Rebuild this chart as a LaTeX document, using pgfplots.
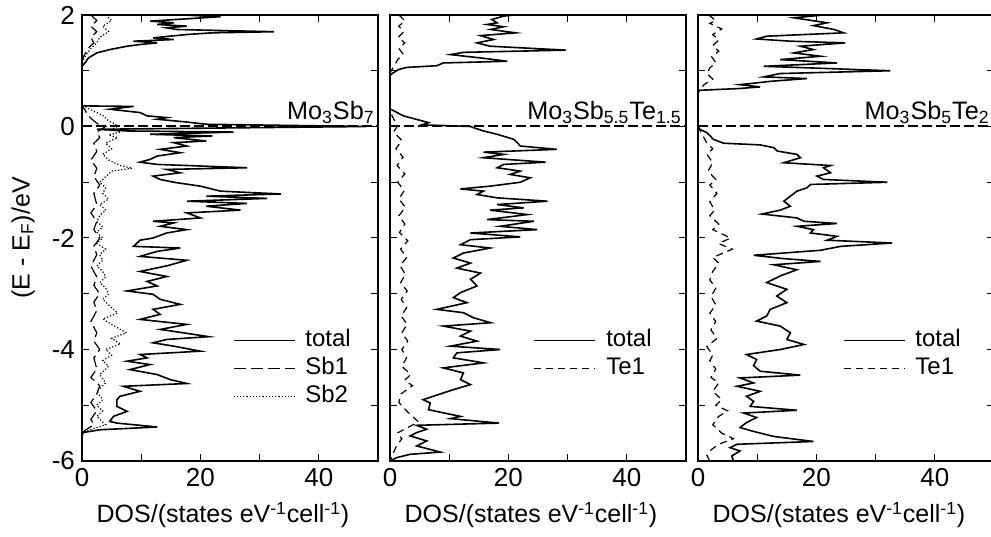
\documentclass[border=0pt]{standalone}
\usepackage{fontspec}
\setmainfont{Liberation Sans}
\usepackage{pgfplots}
\pgfplotsset{compat=1.18}
\pgfplotsset{
 dospanel/.style={
  scale only axis, width=148pt, height=223pt,
  xmin=0, xmax=50, ymin=-6, ymax=2,
  xtick={0,20,40}, xticklabels={0,20,40},
  minor xtick={10,30},
  ytick={-6,-4,-2,0,2},
  minor ytick={-5,-3,-1,1},
  tick align=inside,
  major tick length=3.5pt, minor tick length=3.5pt,
  tick style={black, line width=0.5pt},
  axis line style={line width=1pt},
  tick label style={font=\fontsize{13}{15}\selectfont},
  xlabel={DOS/(states eV\textsuperscript{-1}cell\textsuperscript{-1})},
  every axis x label/.style={at={(axis description cs:0.5,-0.139)}, anchor=base, xshift=-3.5pt, font=\fontsize{12.5}{15}\selectfont},
  legend style={draw=none, fill=none, anchor=north west, inner sep=0pt, font=\fontsize{12}{14}\selectfont,
     nodes={inner sep=0.5pt, text height=9pt, text depth=3pt}, row sep=1pt, column sep=4.5pt},
  legend cell align=left,
  legend image code/.code={\draw[#1] (0pt,0pt) -- (30.5pt,0pt);},
 },
 tot/.style={black, line width=0.8pt},
 fermi/.style={black, line width=1pt, dash pattern=on 5pt off 2pt},
}
\begin{document}
\begin{tikzpicture}
% ---------------- Panel 1 ----------------
\begin{axis}[dospanel, at={(41pt,37.5pt)}, anchor=south west,
  yticklabels={-6,-4,-2,0,2},
  ylabel={(E - E\textsubscript{F})/eV},
  every axis y label/.style={at={(axis description cs:-0.199,0.5)}, rotate=90, anchor=center, font=\fontsize{12.5}{15}\selectfont},
  legend style={at={(axis cs:25.4,-3.6)}}]
\addplot[tot] coordinates {
(17,2.00) (23.4,1.97) (11.5,1.89) (15.5,1.86) (12.7,1.83) (17.7,1.80) (14.3,1.77) (16,1.74)
(32.4,1.70) (22,1.68) (17.7,1.65) (12,1.59) (15.5,1.56) (8.7,1.53) (12.7,1.50) (9.8,1.47)
(7.6,1.44) (4.7,1.38) (2.5,1.32) (1.1,1.23) (0.5,1.14) (0,1.08) (0,0.37)
(8.7,0.36) (4.7,0.31) (9.8,0.25) (11,0.19) (14.3,0.16) (12.7,0.13) (17.7,0.08) (21,0.04)
(48,0.0) (2.5,-0.05) (7.6,-0.08) (25.6,-0.10) (11.5,-0.14) (22,-0.17) (15.5,-0.20) (21,-0.26)
(15.5,-0.29) (17.7,-0.35) (13.2,-0.41) (16.6,-0.47) (12.7,-0.53) (11.5,-0.59) (9.8,-0.64)
(12.7,-0.68) (27.9,-0.74) (14.3,-0.77) (16.6,-0.83) (12,-0.89) (13.2,-0.95) (15.5,-1.00)
(20,-1.07) (23.4,-1.16) (33.6,-1.21) (21,-1.25) (31.3,-1.29) (17.7,-1.34) (27.9,-1.38)
(21,-1.43) (26.8,-1.50) (17.7,-1.55) (20,-1.64) (12,-1.70) (15.5,-1.73) (13.2,-1.79)
(17.7,-1.85) (14.3,-1.91) (12,-2.00) (9.8,-2.04) (8.7,-2.15) (16.6,-2.18) (12.7,-2.24)
(9.8,-2.33) (17.7,-2.40) (14.3,-2.50) (9.8,-2.60) (14.3,-2.69) (11,-2.78) (12.7,-2.86)
(7.6,-2.95) (12,-3.01) (13.2,-3.10) (16.6,-3.19) (12,-3.28) (13.2,-3.37) (9.8,-3.46)
(17.7,-3.55) (13.2,-3.64) (17.7,-3.71) (21.4,-3.77) (14.3,-3.82) (12,-3.88) (15.5,-3.94)
(20,-4.03) (9.8,-4.09) (11,-4.15) (7.6,-4.21) (11.5,-4.27) (8.1,-4.36) (12.7,-4.45)
(14.9,-4.54) (17.7,-4.61) (7,-4.66) (9.8,-4.75) (6.4,-4.84) (5.9,-4.90) (5.9,-5.02)
(7.6,-5.11) (5.3,-5.20) (4.7,-5.29) (5.9,-5.32) (12.7,-5.39) (3,-5.44) (0.2,-5.49)
(0,-5.55) (0,-6)};
\addplot[black, line width=0.6pt, dash pattern=on 6pt off 2.5pt] coordinates {
(1.5,2.0) (2.5,1.9) (1.5,1.8) (2.5,1.7) (1.5,1.6) (2,1.5) (1,1.4) (0.5,1.3) (0,1.2) (0,0.37)
(0.5,0.3) (1,0.2) (2,0.1) (3,0.02) (4,0) (2.5,-0.1) (3,-0.2) (2,-0.3) (2.5,-0.45) (1.5,-0.6)
(2.5,-0.75) (2,-0.9) (3,-1.05) (2,-1.2) (2.5,-1.4) (1.5,-1.55) (2.5,-1.7) (2,-1.85) (3,-2.0)
(2,-2.15) (2.5,-2.3) (1.5,-2.5) (2.5,-2.7) (2,-2.85) (3,-3.0) (2,-3.15) (2.5,-3.3) (1.5,-3.5)
(2.5,-3.7) (2,-3.85) (3,-4.0) (2,-4.15) (2.5,-4.35) (1.5,-4.5) (3,-4.65) (2.5,-4.8) (1.5,-4.95)
(2.5,-5.1) (1.5,-5.25) (2,-5.35) (0.5,-5.45) (0,-5.5) (0,-6)};
\addplot[black, line width=0.6pt, dash pattern=on 0.6pt off 1pt] coordinates {
(4,2.0) (5,1.9) (3.5,1.8) (4.5,1.7) (3,1.6) (2.5,1.5) (1.5,1.4) (0.8,1.3) (0.2,1.2) (0,1.1)
(0,0.37) (0.5,0.36) (1.5,0.3) (2.5,0.25) (3.5,0.2) (4.5,0.1) (5.5,0.05) (6,0) (5,-0.05)
(6.5,-0.1) (4.5,-0.15) (6,-0.2) (4,-0.3) (5,-0.4) (3.5,-0.5) (4.5,-0.6) (6.5,-0.7) (8.5,-0.75)
(5,-0.8) (4,-0.9) (3,-1.0) (4,-1.1) (3.5,-1.2) (4.5,-1.3) (3,-1.4) (4,-1.5) (3,-1.6) (2.5,-1.7)
(3.5,-1.8) (2.5,-1.9) (3.5,-2.0) (2.5,-2.1) (4,-2.2) (3,-2.3) (3.5,-2.4) (2.5,-2.5) (3.5,-2.6)
(4,-2.7) (3,-2.8) (4,-2.9) (4.5,-3.0) (3.5,-3.1) (4.5,-3.2) (6,-3.35) (3.5,-3.45) (5,-3.55)
(7.5,-3.7) (5,-3.8) (6.5,-3.9) (4,-4.0) (5,-4.1) (3.5,-4.2) (4.5,-4.3) (3,-4.45) (4,-4.6)
(2.5,-4.75) (3.5,-4.9) (2.5,-5.0) (3.5,-5.1) (2.5,-5.2) (4,-5.35) (1,-5.45) (0,-5.5) (0,-6)};
\addplot[fermi, forget plot] coordinates {(0,0) (50,0)};
\legend{total, Sb1, Sb2}
\node[anchor=base east, inner sep=0pt, xshift=-1.5pt, yshift=3.5pt, font=\fontsize{12.6}{15}\selectfont] at (axis cs:50,0) {Mo\textsubscript{3}Sb\textsubscript{7}};
\end{axis}
% ---------------- Panel 2 ----------------
\begin{axis}[dospanel, at={(195pt,37.5pt)}, anchor=south west,
  yticklabels={},
  legend style={at={(axis cs:24.2,-3.6)}}]
\addplot[tot] coordinates {
(20.9,2.00) (19.2,1.98) (17.2,1.92) (18.1,1.86) (16.4,1.83) (19.2,1.79) (17,1.74) (21.2,1.68)
(15.3,1.63) (17.5,1.56) (14.7,1.50) (16.9,1.44) (29.7,1.37) (12.4,1.33) (10.2,1.29) (15.3,1.23)
(19.8,1.17) (9,1.14) (7.9,1.09) (2.8,1.06) (1.4,1.02) (0.1,0.93) (0,0.89) (0,0.31)
(0.3,0.30) (2.3,0.19) (5.1,0.11) (6.5,0.07) (5.4,0.03) (13.6,0.0) (14.1,-0.02) (15.8,-0.08)
(18.1,-0.14) (20.9,-0.23) (21.5,-0.29) (22,-0.35) (28.2,-0.41) (15.8,-0.46) (19.2,-0.50)
(15.8,-0.56) (26.3,-0.64) (19.2,-0.68) (18.1,-0.74) (22,-0.80) (20.3,-0.86) (23.7,-0.92)
(22,-1.00) (16.9,-1.07) (11.9,-1.12) (15.8,-1.16) (14.7,-1.22) (18.1,-1.28) (26.6,-1.34)
(18.1,-1.40) (22.6,-1.46) (16.9,-1.50) (23.2,-1.58) (16.4,-1.67) (24.3,-1.70) (18.6,-1.79)
(24.9,-1.85) (13.6,-1.91) (22,-1.98) (13.6,-2.03) (11.9,-2.12) (16.9,-2.18) (12.4,-2.27)
(10.7,-2.36) (13.6,-2.45) (11.3,-2.54) (15.3,-2.63) (13.6,-2.74) (14.7,-2.86) (11.9,-2.98)
(10.7,-3.07) (13,-3.16) (7.9,-3.28) (12.4,-3.34) (14.1,-3.43) (17,-3.52) (9,-3.58) (13.6,-3.67)
(11.9,-3.76) (14.7,-3.85) (10.2,-3.94) (18.6,-4.00) (11.3,-4.06) (10.7,-4.15) (15.8,-4.24)
(9,-4.33) (12.4,-4.42) (11.9,-4.54) (13.6,-4.63) (10.7,-4.72) (7.3,-4.84) (5.6,-4.90)
(6.8,-4.96) (6.5,-5.08) (11.9,-5.20) (10.2,-5.24) (18.4,-5.32) (4.5,-5.36) (6.2,-5.43)
(4.5,-5.49) (3.4,-5.55) (6.2,-5.64) (4.5,-5.73) (8.5,-5.84) (3.4,-5.88) (1.1,-5.94) (0,-6.0)};
\addplot[black, line width=0.6pt, dash pattern=on 3.5pt off 2.5pt] coordinates {
(1.5,2.0) (2.5,1.9) (1.5,1.8) (2.3,1.7) (1.4,1.6) (2.5,1.5) (1.5,1.4) (2.2,1.3) (1.3,1.2)
(0.8,1.1) (0.2,1.0) (0,0.95) (0,0.3) (0.3,0.2) (0.8,0.1) (1.2,0) (0.6,-0.1) (2,-0.25) (1,-0.4)
(2.2,-0.55) (1.2,-0.7) (2.5,-0.85) (1.3,-1.0) (2.4,-1.15) (1.5,-1.3) (2.6,-1.45) (1.5,-1.6)
(2.5,-1.75) (1.6,-1.9) (3,-2.05) (1.8,-2.2) (2.8,-2.35) (1.7,-2.5) (2.6,-2.65) (1.8,-2.8)
(2.9,-2.95) (1.9,-3.1) (2.8,-3.25) (1.9,-3.4) (2.9,-3.55) (2,-3.7) (3,-3.85) (2,-4.0) (2.8,-4.15)
(2,-4.3) (3.5,-4.45) (2.5,-4.55) (3.8,-4.65) (1.8,-4.8) (1.5,-4.95) (2.8,-5.1) (4.8,-5.3)
(3,-5.4) (1.2,-5.5) (2,-5.6) (1,-5.75) (0.4,-5.9) (0,-6)};
\addplot[fermi, forget plot] coordinates {(0,0) (50,0)};
\legend{total, Te1}
\node[anchor=base east, inner sep=0pt, xshift=-2pt, yshift=3.5pt, font=\fontsize{12.6}{15}\selectfont] at (axis cs:50,0) {Mo\textsubscript{3}Sb\textsubscript{5.5}Te\textsubscript{1.5}};
\end{axis}
% ---------------- Panel 3 ----------------
\begin{axis}[dospanel, at={(349pt,37.5pt)}, anchor=south west,
  yticklabels={},
  legend style={at={(axis cs:24.4,-3.6)}}]
\addplot[tot] coordinates {
(21.2,2.00) (16.2,1.95) (21.8,1.86) (19.5,1.81) (23,1.74) (24.6,1.68) (11.6,1.62) (9.9,1.57)
(15.6,1.53) (24.9,1.50) (17.3,1.44) (19.5,1.38) (16.2,1.32) (20.7,1.26) (13.9,1.20) (23.5,1.14)
(11.1,1.08) (32.5,1.00) (13.9,0.95) (11.1,0.89) (18.4,0.86) (12.2,0.81) (7.1,0.75) (10.5,0.71)
(6.8,0.68) (0.3,0.65) (0,0.62) (0,0.0) (0.3,-0.05) (1.5,-0.11) (2.6,-0.23) (4.3,-0.30)
(10.5,-0.33) (12.8,-0.38) (13.4,-0.44) (16.7,-0.50) (17.3,-0.56) (14.5,-0.65) (22.4,-0.70)
(21.2,-0.74) (22.4,-0.83) (20.1,-0.89) (21.2,-0.95) (32,-1.00) (19,-1.04) (18.4,-1.10)
(16.7,-1.16) (15.6,-1.25) (14.5,-1.34) (15.6,-1.43) (13.9,-1.50) (10.8,-1.57) (16.7,-1.64)
(17.9,-1.70) (23.5,-1.74) (16.7,-1.79) (19.5,-1.85) (19,-1.91) (23.5,-1.97) (21.8,-2.04)
(32.8,-2.09) (24.1,-2.15) (20.7,-2.22) (9.4,-2.31) (14.5,-2.37) (20.7,-2.42) (12.8,-2.48)
(16.7,-2.57) (13.9,-2.68) (11.6,-2.80) (15,-2.92) (13.3,-3.04) (15,-3.16) (12.2,-3.28)
(11.6,-3.40) (9.9,-3.49) (13.9,-3.58) (15.6,-3.70) (15,-3.82) (17.9,-3.91) (13.9,-4.00)
(8.2,-4.09) (9.9,-4.18) (9.4,-4.29) (10.5,-4.39) (17.3,-4.46) (7.1,-4.51) (9.4,-4.60)
(6.6,-4.66) (10.5,-4.75) (8.2,-4.84) (9.4,-4.93) (8.8,-5.02) (16.7,-5.09) (7.7,-5.14)
(9.9,-5.22) (8.2,-5.31) (7.1,-5.40) (9.4,-5.47) (12.8,-5.56) (19.5,-5.65) (6.6,-5.70)
(5.4,-5.76) (7.1,-5.82) (5.7,-5.91) (6,-6.0)};
\addplot[black, line width=0.6pt, dash pattern=on 3.5pt off 2.5pt] coordinates {
(1.8,2.0) (3,1.9) (2,1.85) (4,1.75) (2.5,1.65) (3.5,1.55) (2.5,1.45) (3.5,1.35) (2.3,1.25)
(3,1.15) (2,1.05) (1.5,0.95) (2.5,0.85) (1,0.75) (0.5,0.68) (0,0.62) (0,0) (0.5,-0.1) (1,-0.2)
(1.5,-0.3) (2.5,-0.4) (1.5,-0.5) (2.5,-0.65) (1.7,-0.8) (3,-0.95) (2,-1.05) (3.2,-1.2) (2,-1.35)
(2.8,-1.5) (2,-1.6) (3.5,-1.75) (2.5,-1.85) (5.5,-2.0) (3.5,-2.1) (5.8,-2.2) (2.5,-2.35)
(3.5,-2.45) (2.5,-2.6) (2,-2.75) (3,-2.9) (2.2,-3.05) (3,-3.2) (2,-3.35) (3,-3.5) (2.2,-3.65)
(3.2,-3.8) (1.5,-3.95) (2.5,-4.1) (2,-4.2) (3,-4.35) (2.2,-4.5) (3.5,-4.6) (2.5,-4.75) (4,-4.9)
(3,-5.0) (5,-5.1) (3.5,-5.2) (2.5,-5.35) (4,-5.5) (6,-5.6) (3.5,-5.7) (2.2,-5.8) (1.5,-5.9)
(2,-6.0)};
\addplot[fermi, forget plot] coordinates {(0,0) (50,0)};
\legend{total, Te1}
\node[anchor=base east, inner sep=0pt, xshift=-2pt, yshift=3.5pt, font=\fontsize{12.6}{15}\selectfont] at (axis cs:50,0) {Mo\textsubscript{3}Sb\textsubscript{5}Te\textsubscript{2}};
\end{axis}
\pgfresetboundingbox
\useasboundingbox (0,0) rectangle (495.5pt,268pt);
\end{tikzpicture}
\end{document}
